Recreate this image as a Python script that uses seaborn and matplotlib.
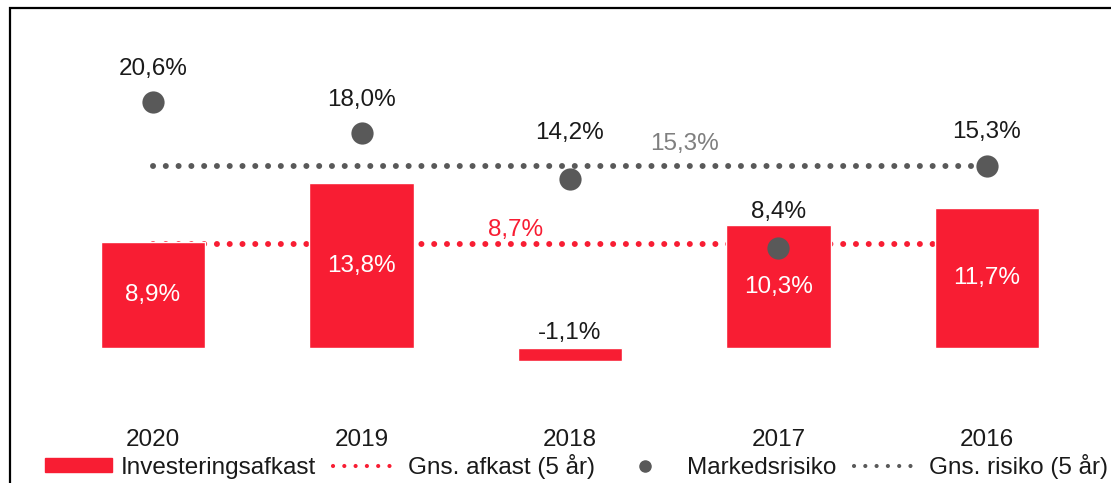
import matplotlib.pyplot as plt
import matplotlib.patches as mpatches
from matplotlib.lines import Line2D
import seaborn as sns
import pandas as pd

# data
years = ['2020', '2019', '2018', '2017', '2016']
afkast = [8.9, 13.8, -1.1, 10.3, 11.7]
risiko = [20.6, 18.0, 14.2, 8.4, 15.3]
gns_afkast = 8.7
gns_risiko = 15.3

RED = '#F81D33'
GREY = '#595959'
TXT = '#1a1a1a'
FS = 17.5


def pct(v):
    return f'{v:.1f}'.replace('.', ',') + '%'


sns.set_theme(style='white')
plt.rcParams['font.family'] = ['Liberation Sans', 'DejaVu Sans']

df = pd.DataFrame({'year': years, 'afkast': afkast, 'risiko': risiko})

fig = plt.figure(figsize=(11.11, 4.83), dpi=100)
ax = fig.add_axes([0, 0.13, 1, 0.87])

sns.barplot(data=df, x='year', y='afkast', color=RED, saturation=1,
            width=0.5, ax=ax, zorder=2)

# average lines across the five years
n = len(years)
dot_style = dict(linestyle=(0, (0.01, 2.13)), linewidth=4.3, dash_capstyle='round')
ax.plot([0, n - 1], [gns_afkast, gns_afkast], color=RED, zorder=1, **dot_style)
ax.plot([0, n - 1], [gns_risiko, gns_risiko], color=GREY, zorder=1, **dot_style)

sns.stripplot(data=df, x='year', y='risiko', jitter=False, color=GREY,
              size=16, linewidth=0, ax=ax, zorder=4)

# bar labels
for i, v in enumerate(afkast):
    if v >= 0:
        ax.text(i, v / 2, pct(v), ha='center', va='center', color='white',
                fontsize=FS)
    else:
        ax.annotate(pct(v), (i, 0), xytext=(0, 15), textcoords='offset pixels',
                    ha='center', va='center', color=TXT, fontsize=FS)

# risk labels
risk_dy = [33, 33, 46, 36, 34]
for i, v in enumerate(risiko):
    ax.annotate(pct(v), (i, v), xytext=(0, risk_dy[i]), textcoords='offset pixels',
                ha='center', va='center', color=TXT, fontsize=FS)

ax.annotate(pct(gns_afkast), (1.74, gns_afkast), xytext=(0, 14),
            textcoords='offset pixels', ha='center', va='center',
            color=RED, fontsize=FS)
ax.annotate(pct(gns_risiko), (2.55, gns_risiko), xytext=(0, 22),
            textcoords='offset pixels', ha='center', va='center',
            color='#7f7f7f', fontsize=FS)

ax.set_xlim(-0.734, 4.595)
ax.set_ylim(-6.04, 29.17)
ax.set_xlabel('')
ax.set_ylabel('')
ax.set_yticks([])
ax.tick_params(axis='x', length=0, pad=6, labelsize=17.5, labelcolor=TXT)
for s in ax.spines.values():
    s.set_visible(False)
ax.patch.set_alpha(0)

# frame around the chart
frame = mpatches.Rectangle((10 / 1111, -0.2), 1.2, 1.2 - 8 / 483,
                           transform=fig.transFigure, fill=False,
                           edgecolor='black', linewidth=1.6, clip_on=False)
fig.patches.append(frame)

leg_dots = dict(linestyle=(0, (0.01, 2.7)), linewidth=3, dash_capstyle='round')
handles = [
    mpatches.Patch(color=RED),
    Line2D([], [], color=RED, **leg_dots),
    Line2D([], [], color=GREY, marker='o', linestyle='none', markersize=8),
    Line2D([], [], color=GREY, **leg_dots),
]
labels = ['Investeringsafkast', 'Gns. afkast (5 år)', 'Markedsrisiko',
          'Gns. risiko (5 år)']
fig.legend(handles, labels, loc='center', bbox_to_anchor=(0.519, 0.035),
           ncol=4, frameon=False, fontsize=17.5, handlelength=2.75,
           handleheight=0.5, handletextpad=0.35, columnspacing=0.7,
           labelcolor=TXT, borderpad=0, borderaxespad=0)

fig.savefig('out.png', dpi=100)
